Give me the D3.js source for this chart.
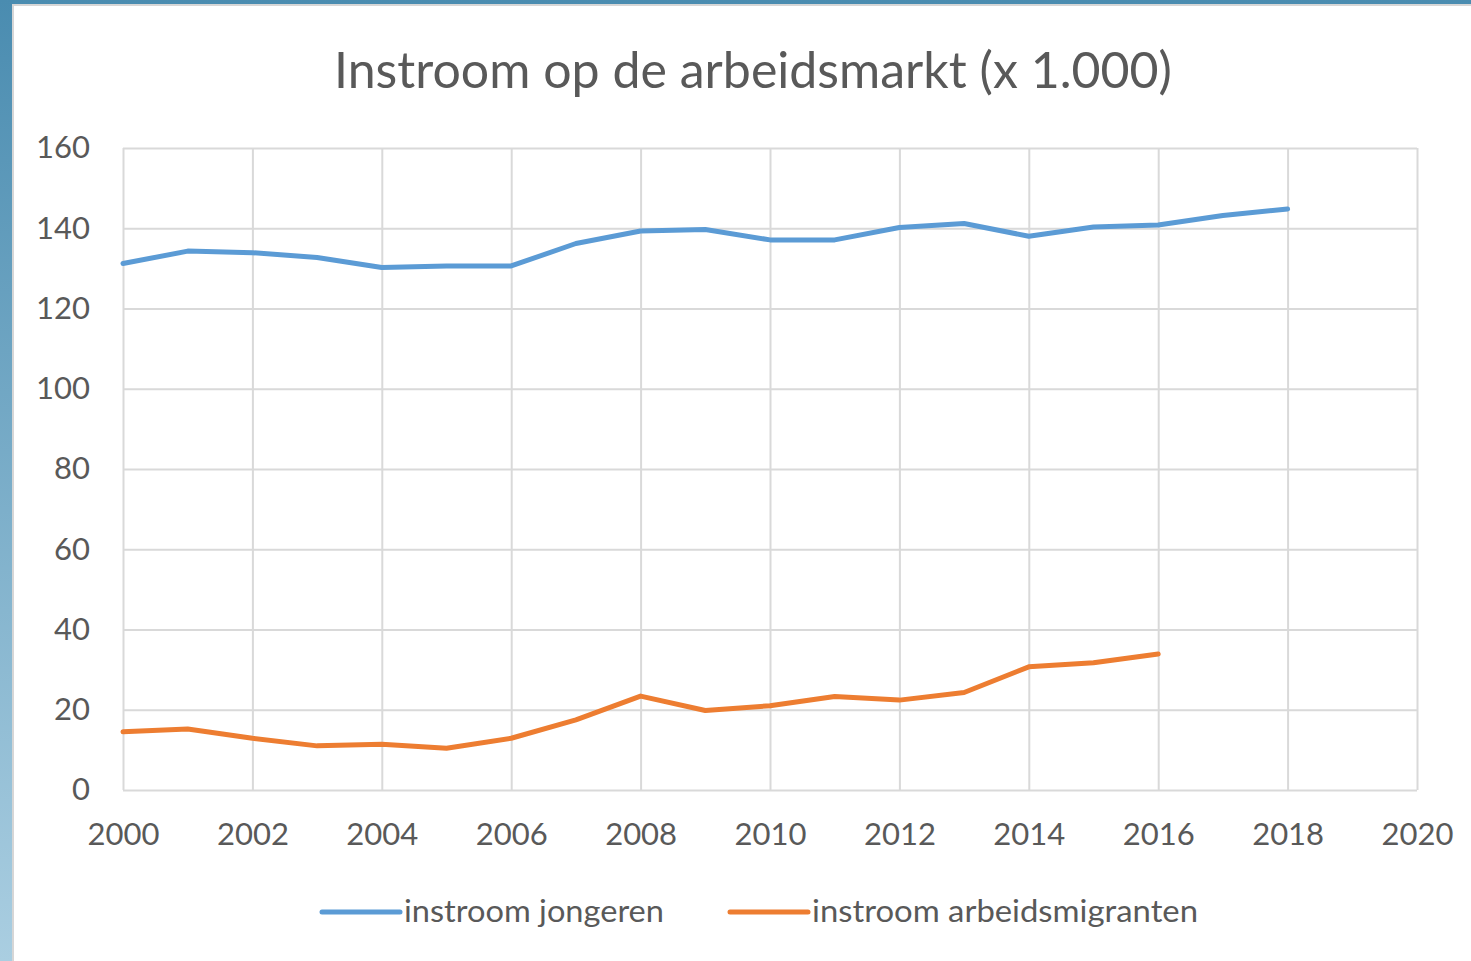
<!DOCTYPE html>
<html>
<head>
<meta charset="utf-8">
<script src="https://cdn.jsdelivr.net/npm/d3@7"></script>
<style>
  body { margin: 0; background: #ffffff; }
  text { font-family: "Lato", "Open Sans", sans-serif; fill: #595959; }
</style>
</head>
<body>
<div id="vis"></div>
<script>
// data (x 1.000)
var years = [2000, 2001, 2002, 2003, 2004, 2005, 2006, 2007, 2008, 2009,
  2010, 2011, 2012, 2013, 2014, 2015, 2016, 2017, 2018];
var jongeren = [131.2, 134.3, 133.9, 132.7, 130.2, 130.6, 130.6, 136.2, 139.3, 139.7,
  137.1, 137.1, 140.2, 141.2, 138.0, 140.3, 140.8, 143.2, 144.8];
var migranten = [14.5, 15.2, 12.9, 11.0, 11.4, 10.4, 12.9, 17.5, 23.4, 19.8,
  21.0, 23.3, 22.4, 24.3, 30.7, 31.7, 33.9];

var xTicks = [2000, 2002, 2004, 2006, 2008, 2010, 2012, 2014, 2016, 2018, 2020];
var yTicks = [0, 20, 40, 60, 80, 100, 120, 140, 160];
var seriesNames = ["instroom jongeren", "instroom arbeidsmigranten"];
var seriesColors = ["#5b9bd5", "#ed7d31"];

var width = 1471, height = 961;
var margin = { top: 148, left: 123, bottom: 171, right: 54 };
var innerW = width - margin.left - margin.right;
var innerH = height - margin.top - margin.bottom;

var svg = d3.select("#vis").append("svg")
  .attr("width", width)
  .attr("height", height);

// blue slide background behind the chart
var grad = svg.append("defs").append("linearGradient")
  .attr("id", "bg").attr("x1", 0).attr("y1", 0).attr("x2", 0).attr("y2", 1);
grad.append("stop").attr("offset", "0%").attr("stop-color", "#4a8cb0");
grad.append("stop").attr("offset", "100%").attr("stop-color", "#aacee1");

svg.append("rect")
  .attr("width", width).attr("height", height)
  .attr("fill", "url(#bg)");

svg.append("rect")
  .attr("x", 13).attr("y", 5)
  .attr("width", width).attr("height", height)
  .attr("fill", "#ffffff")
  .attr("stroke", "#d6d6d6")
  .attr("stroke-width", 2);

// title
svg.append("text")
  .attr("x", 753).attr("y", 88)
  .attr("text-anchor", "middle")
  .attr("font-size", 50)
  .attr("textLength", 838)
  .attr("lengthAdjust", "spacingAndGlyphs")
  .text("Instroom op de arbeidsmarkt (x 1.000)");

var x = d3.scaleLinear().domain([2000, 2020]).range([0, innerW]);
var y = d3.scaleLinear().domain([0, 160]).range([innerH, 0]);

var g = svg.append("g")
  .attr("transform", "translate(" + margin.left + "," + margin.top + ")");

// horizontal gridlines + y labels
var yAxis = g.append("g")
  .call(d3.axisLeft(y).tickValues(yTicks).tickSize(-innerW).tickPadding(33));
yAxis.select(".domain").remove();
yAxis.selectAll("line").attr("stroke", "#d9d9d9").attr("stroke-width", 2);
yAxis.selectAll("text")
  .attr("font-size", 31)
  .attr("fill", "#595959")
  .attr("font-family", "Lato");

// vertical gridlines + x labels
var xAxis = g.append("g")
  .attr("transform", "translate(0," + innerH + ")")
  .call(d3.axisBottom(x).tickValues(xTicks).tickFormat(d3.format("d"))
    .tickSize(-innerH).tickPadding(33));
xAxis.select(".domain").remove();
xAxis.selectAll("line").attr("stroke", "#d9d9d9").attr("stroke-width", 2);
xAxis.selectAll("text")
  .attr("font-size", 31)
  .attr("fill", "#595959")
  .attr("font-family", "Lato");

var line = d3.line()
  .x(function(d) { return x(d.year); })
  .y(function(d) { return y(d.value); });

var series = [jongeren, migranten].map(function(vals) {
  return vals.map(function(v, i) { return { year: years[i], value: v }; });
});

g.selectAll(".series")
  .data(series)
  .enter().append("path")
  .attr("class", "series")
  .attr("fill", "none")
  .attr("stroke", function(d, i) { return seriesColors[i]; })
  .attr("stroke-width", 5)
  .attr("stroke-linejoin", "round")
  .attr("stroke-linecap", "round")
  .attr("d", line);

// legend
var legendX = [322, 730];
var legendTextW = [260, 386];
var legend = svg.selectAll(".legend")
  .data(seriesNames)
  .enter().append("g")
  .attr("class", "legend")
  .attr("transform", function(d, i) { return "translate(" + legendX[i] + ",912)"; });

legend.append("line")
  .attr("x1", 0).attr("x2", 78)
  .attr("stroke", function(d, i) { return seriesColors[i]; })
  .attr("stroke-width", 5)
  .attr("stroke-linecap", "round");

legend.append("text")
  .attr("x", 82).attr("y", 10)
  .attr("font-size", 31)
  .attr("textLength", function(d, i) { return legendTextW[i]; })
  .attr("lengthAdjust", "spacingAndGlyphs")
  .text(function(d) { return d; });
</script>
</body>
</html>
